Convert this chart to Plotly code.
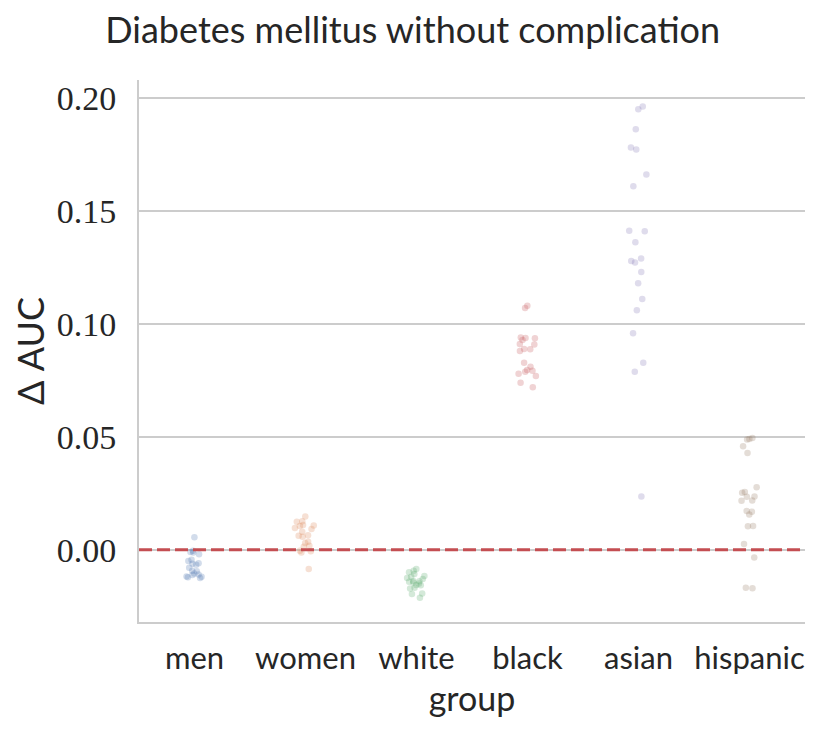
import plotly.graph_objects as go

GROUPS = ["men", "women", "white", "black", "asian", "hispanic"]

MEN = [0.0055, -0.0004, -0.0010, -0.0012, -0.0020, -0.0044, -0.0050, -0.0060,
       -0.0062, -0.0066, -0.0080, -0.0093, -0.0095, -0.0105, -0.0110, -0.0118,
       -0.0120, -0.0125, -0.0122, -0.0112]
WOMEN = [0.0147, 0.0126, 0.0124, 0.0107, 0.0105, 0.0110, 0.0096, 0.0092,
         0.0062, 0.0064, 0.0058, 0.0035, 0.0030, 0.0013, -0.0005, -0.0007,
         -0.0012, 0.0018, 0.0080, -0.0085]
WHITE = [-0.0093, -0.0085, -0.0107, -0.0116, -0.0125, -0.0138, -0.0140,
         -0.0142, -0.0156, -0.0157, -0.0168, -0.0172, -0.0194, -0.0196,
         -0.0213, -0.0120, -0.0130, -0.0150, -0.0145, -0.0100]
BLACK = [0.1070, 0.1080, 0.0938, 0.0940, 0.0936, 0.0929, 0.0909, 0.0911,
         0.0889, 0.0888, 0.0880, 0.0828, 0.0796, 0.0792, 0.0810, 0.0788,
         0.0779, 0.0769, 0.0739, 0.0720]
ASIAN = [0.1963, 0.1951, 0.1862, 0.1781, 0.1772, 0.1662, 0.1610, 0.1410,
         0.1412, 0.1361, 0.1290, 0.1278, 0.1272, 0.1230, 0.1180, 0.1110,
         0.1060, 0.0959, 0.0828, 0.0788, 0.0236]
HISPANIC = [0.0495, 0.0490, 0.0488, 0.0458, 0.0428, 0.0277, 0.0256, 0.0252,
            0.0236, 0.0235, 0.0218, 0.0217, 0.0172, 0.0168, 0.0156, 0.0105,
            0.0104, 0.0025, -0.0034, -0.0171, -0.0168]

VALUES = [MEN, WOMEN, WHITE, BLACK, ASIAN, HISPANIC]
COLORS = ["#4c72b0", "#dd8452", "#55a868", "#c44e52", "#8172b3", "#937860"]

Y_TICKS = [0.0, 0.05, 0.10, 0.15, 0.20]

SANS = "Lato, 'DejaVu Sans', sans-serif"
SERIF = "'Liberation Serif', 'DejaVu Serif', serif"
GRID = "#cccccc"
INK = "#262626"

fig = go.Figure()
for name, vals, col in zip(GROUPS, VALUES, COLORS):
    fig.add_trace(go.Box(
        x=[name] * len(vals),
        y=vals,
        name=name,
        boxpoints="all",
        jitter=0.4,
        pointpos=0,
        fillcolor="rgba(0,0,0,0)",
        line=dict(width=0, color="rgba(0,0,0,0)"),
        marker=dict(color=col, size=6.5, opacity=0.25),
        showlegend=False,
    ))

fig.add_hline(y=0, line=dict(color="#c44e52", width=3, dash="13px,5px"))

# page body has an 8px margin, so the plot box is shifted by that amount
fig.update_layout(
    width=831,
    height=734,
    paper_bgcolor="white",
    plot_bgcolor="white",
    margin=dict(l=131, r=34, t=72, b=120, autoexpand=False),
    title=dict(
        text="Diabetes mellitus without complication",
        x=0.487,
        xanchor="center",
        xref="container",
        y=0.969,
        yanchor="middle",
        font=dict(family=SANS, size=36, color=INK),
    ),
    boxmode="overlay",
    xaxis=dict(
        categoryorder="array",
        categoryarray=GROUPS,
        range=[-0.5, 5.5],
        showgrid=False,
        showline=True,
        linecolor=GRID,
        linewidth=2,
        ticks="",
        ticklabelstandoff=8,
        tickfont=dict(family=SANS, size=31, color=INK),
        title=dict(text="group", font=dict(family=SANS, size=34, color=INK), standoff=12),
    ),
    yaxis=dict(
        range=[-0.032, 0.208],
        tickvals=Y_TICKS,
        tickformat=".2f",
        showgrid=True,
        gridcolor=GRID,
        gridwidth=1.6,
        zeroline=False,
        showline=True,
        linecolor=GRID,
        linewidth=2,
        ticks="",
        ticklabelstandoff=14,
        tickfont=dict(family=SERIF, size=34, color=INK),
        title=dict(text="Δ AUC", font=dict(family=SANS, size=36, color=INK), standoff=15),
    ),
)

fig.write_html("out.html")
